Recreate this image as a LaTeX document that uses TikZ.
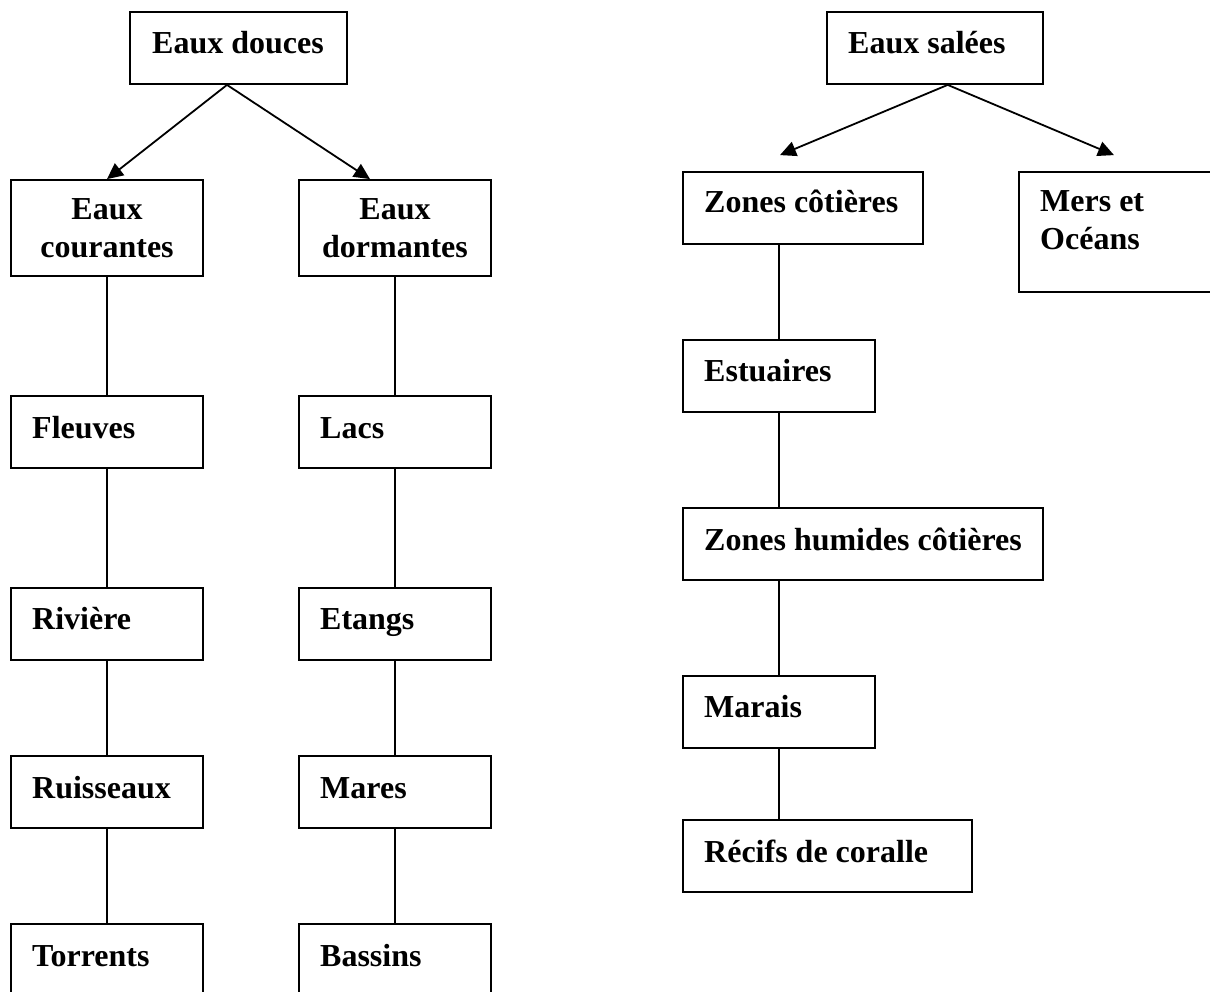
\documentclass[tikz,border=0pt]{standalone}
\usepackage{fontspec}
\setmainfont{Liberation Serif}
\usetikzlibrary{arrows.meta}
\begin{document}
\begin{tikzpicture}[x=1pt,y=1pt,
  box/.style={draw, line width=1.8pt, rectangle, inner sep=0pt},
  lbl/.style={font=\fontsize{32}{38}\selectfont\bfseries, inner sep=0pt, anchor=base west},
  clbl/.style={font=\fontsize{32}{38}\selectfont\bfseries, inner sep=0pt, align=center, anchor=base},
  conn/.style={line width=1.8pt},
  arr/.style={line width=1.8pt, -{Triangle[length=16pt,width=15pt]}}]
\useasboundingbox (0,0) rectangle (1210,-992);

% boxes - left
\node[box, minimum width=217, minimum height=72] (D)  at (238.5,-48) {};
\node[box, minimum width=192, minimum height=96] (C)  at (107,-228) {};
\node[box, minimum width=192, minimum height=96] (DM) at (395,-228) {};
\node[box, minimum width=192, minimum height=72] (F)  at (107,-432) {};
\node[box, minimum width=192, minimum height=72] (L)  at (395,-432) {};
\node[box, minimum width=192, minimum height=72] (R)  at (107,-624) {};
\node[box, minimum width=192, minimum height=72] (ET) at (395,-624) {};
\node[box, minimum width=192, minimum height=72] (RU) at (107,-792) {};
\node[box, minimum width=192, minimum height=72] (MA) at (395,-792) {};
\node[box, minimum width=192, minimum height=72] (T)  at (107,-960) {};
\node[box, minimum width=192, minimum height=72] (B)  at (395,-960) {};
% boxes - right
\node[box, minimum width=216, minimum height=72]  (S)  at (935,-48) {};
\node[box, minimum width=240, minimum height=72]  (ZC) at (803,-208) {};
\node[box, minimum width=201, minimum height=120] (MO) at (1119.5,-232) {};
\node[box, minimum width=192, minimum height=72]  (ES) at (779,-376) {};
\node[box, minimum width=360, minimum height=72]  (ZH) at (863,-544) {};
\node[box, minimum width=192, minimum height=72]  (MR) at (779,-712) {};
\node[box, minimum width=289, minimum height=72]  (RC) at (827.5,-856) {};

% texts
\node[clbl] (tD)  at (238,-54) {Eaux douces};
\node[clbl] (tC)  at (107,-258) {Eaux\\courantes};
\node[clbl] (tDM) at (395,-258) {Eaux\\dormantes};
\node[lbl] (tF)  at (32,-438) {Fleuves};
\node[lbl] (tL)  at (320,-438) {Lacs};
\node[lbl] (tR)  at (32,-629) {Rivière};
\node[lbl] (tET) at (320,-629) {Etangs};
\node[lbl] (tRU) at (32,-798) {Ruisseaux};
\node[lbl] (tMA) at (320,-798) {Mares};
\node[lbl] (tT)  at (32,-966) {Torrents};
\node[lbl] (tB)  at (320,-966) {Bassins};
\node[lbl] (tS)  at (848,-54) {Eaux salées};
\node[lbl] (tZC) at (704,-213) {Zones côtières};
\node[lbl, align=left] (tMO) at (1040,-250) {Mers et\\Océans};
\node[lbl] (tES) at (704,-381) {Estuaires};
\node[lbl] (tZH) at (704,-550) {Zones humides côtières};
\node[lbl] (tMR) at (704,-717) {Marais};
\node[lbl] (tRC) at (704,-862) {Récifs de coralle};

% arrows
\draw[arr] ([xshift=-11.5]D.south) -- (C.north);
\draw[arr] ([xshift=-11.5]D.south) -- ([xshift=-25]DM.north);
\draw[arr] ([xshift=12.7]S.south) -- ([shift={(-23,16)}]ZC.north);
\draw[arr] ([xshift=12.7]S.south) -- ([shift={(-5.5,16)}]MO.north);

% vertical connectors
\draw[conn] (C.south) -- (F.north);
\draw[conn] (F.south) -- (R.north);
\draw[conn] (R.south) -- (RU.north);
\draw[conn] (RU.south) -- (T.north);
\draw[conn] (DM.south) -- (L.north);
\draw[conn] (L.south) -- (ET.north);
\draw[conn] (ET.south) -- (MA.north);
\draw[conn] (MA.south) -- (B.north);
\draw[conn] (ES.north) -- (ES.north |- ZC.south);
\draw[conn] (ES.south) -- (ES.south |- ZH.north);
\draw[conn] (MR.north) -- (MR.north |- ZH.south);
\draw[conn] (MR.south) -- (MR.south |- RC.north);
\end{tikzpicture}
\end{document}
